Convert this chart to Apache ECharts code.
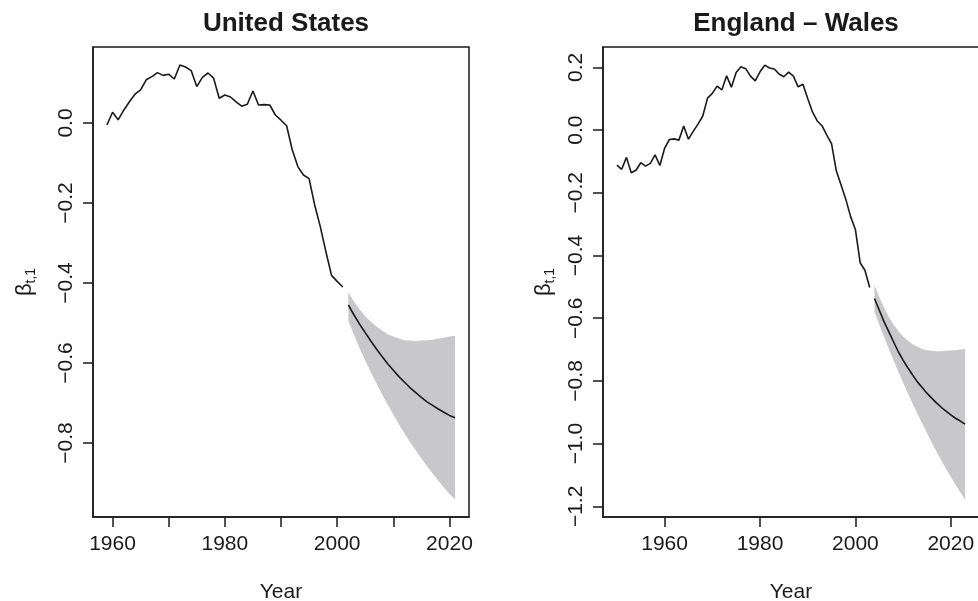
<!DOCTYPE html>
<html>
<head>
<meta charset="utf-8">
<script src="https://cdn.jsdelivr.net/npm/echarts@6/dist/echarts.min.js"></script>
<style>
  html, body { margin: 0; padding: 0; background: #fff; }
  #main { width: 978px; height: 601px; }
</style>
</head>
<body>
<div id="main"></div>
<script>
// United States: fitted beta_t,1 1959-2001, forecast 2002-2021
const usStart = 1959
const usHist = [-0.005, 0.027, 0.008, 0.032, 0.053, 0.072, 0.083, 0.108, 0.116, 0.126,
    0.119, 0.122, 0.110, 0.145, 0.140, 0.131, 0.091, 0.114, 0.125, 0.112,
    0.062, 0.070, 0.065, 0.053, 0.042, 0.047, 0.080, 0.045, 0.046, 0.045,
    0.020, 0.007, -0.007, -0.067, -0.109, -0.130, -0.139, -0.205, -0.259, -0.322,
    -0.381, -0.396, -0.410]
const usFcStart = 2002
const usMid = [-0.455, -0.480, -0.503, -0.524, -0.545, -0.565, -0.584, -0.602, -0.618, -0.634,
    -0.648, -0.662, -0.674, -0.686, -0.697, -0.706, -0.715, -0.723, -0.731, -0.737]
const usUpper = [-0.424, -0.447, -0.466, -0.483, -0.497, -0.509, -0.519, -0.528, -0.534, -0.539,
    -0.543, -0.544, -0.545, -0.544, -0.543, -0.542, -0.539, -0.537, -0.534, -0.532]
const usLower = [-0.495, -0.530, -0.563, -0.594, -0.623, -0.651, -0.678, -0.704, -0.729, -0.753,
    -0.776, -0.798, -0.819, -0.839, -0.858, -0.876, -0.894, -0.911, -0.927, -0.942]

// England - Wales: 1950-2003, forecast 2004-2023
const ewStart = 1950
const ewHist = [-0.112, -0.125, -0.087, -0.136, -0.128, -0.104, -0.115, -0.106, -0.079, -0.113,
    -0.058, -0.030, -0.028, -0.032, 0.013, -0.029, -0.004, 0.019, 0.045, 0.102,
    0.117, 0.140, 0.128, 0.173, 0.137, 0.184, 0.202, 0.196, 0.172, 0.157,
    0.186, 0.207, 0.198, 0.195, 0.179, 0.170, 0.185, 0.172, 0.138, 0.146,
    0.101, 0.058, 0.029, 0.014, -0.016, -0.043, -0.130, -0.175, -0.221, -0.276,
    -0.317, -0.423, -0.447, -0.502]
const ewFcStart = 2004
const ewMid = [-0.537, -0.574, -0.611, -0.643, -0.675, -0.707, -0.734, -0.758, -0.781, -0.803,
    -0.821, -0.839, -0.855, -0.870, -0.884, -0.896, -0.908, -0.919, -0.928, -0.938]
const ewUpper = [-0.494, -0.532, -0.566, -0.596, -0.620, -0.641, -0.658, -0.672, -0.683, -0.691,
    -0.698, -0.702, -0.704, -0.705, -0.705, -0.704, -0.703, -0.702, -0.700, -0.698]
const ewLower = [-0.580, -0.620, -0.659, -0.697, -0.734, -0.770, -0.805, -0.839, -0.872, -0.904,
    -0.935, -0.966, -0.996, -1.025, -1.053, -1.080, -1.106, -1.131, -1.155, -1.178]

const usXTicks = [1960, 1970, 1980, 1990, 2000, 2010, 2020]
const usXLabels = [1960, 1980, 2000, 2020]
const usYTicks = [-0.8, -0.6, -0.4, -0.2, 0]
const ewXTicks = [1960, 1980, 2000, 2020]
const ewYTicks = [-1.2, -1.0, -0.8, -0.6, -0.4, -0.2, 0, 0.2]

const font = 'Liberation Sans, Arial, Helvetica, sans-serif'
const ink = '#1a1a1a'
const bandColor = '#c8c8ca'

function pairs(start, vals) {
    return vals.map((v, i) => [start + i, v])
}
function fmt(v) {
    return v.toFixed(1).replace('-', '\u2212')
}

// 置信带: one polygon, upper edge forward then lower edge back
function band(grid, start, lo, hi) {
    return {
        type: 'custom', xAxisIndex: grid, yAxisIndex: grid, z: 1, silent: true,
        data: lo.map((v, i) => [start + i, v, hi[i]]),
        renderItem: function (params, api) {
            if (params.dataIndex !== 0) return
            let pts = []
            for (let i = 0; i < hi.length; i++) pts.push(api.coord([start + i, hi[i]]))
            for (let i = lo.length - 1; i >= 0; i--) pts.push(api.coord([start + i, lo[i]]))
            return { type: 'polygon', shape: { points: pts }, style: { fill: bandColor } }
        },
        encode: { x: 0, y: [1, 2] }
    }
}

function xAxis(grid, min, max, ticks, labels) {
    return {
        gridIndex: grid, type: 'value', min: min, max: max,
        axisLine: { show: true, onZero: false, lineStyle: { color: ink, width: 1.5 } },
        axisTick: { show: true, customValues: ticks, length: 10, lineStyle: { color: ink, width: 1.5 } },
        axisLabel: { customValues: labels, margin: 17, fontSize: 21, fontFamily: font, color: ink,
            formatter: v => String(v) },
        splitLine: { show: false },
        name: 'Year', nameLocation: 'middle', nameGap: 65,
        nameTextStyle: { fontSize: 21, fontFamily: font, color: ink }
    }
}
function yAxis(grid, min, max, ticks, gap) {
    return {
        gridIndex: grid, type: 'value', min: min, max: max,
        axisLine: { show: true, onZero: false, lineStyle: { color: ink, width: 1.5 } },
        axisTick: { show: true, customValues: ticks, length: 10, lineStyle: { color: ink, width: 1.5 } },
        axisLabel: { customValues: ticks, rotate: 90, margin: 16, fontSize: 21, fontFamily: font, color: ink, formatter: fmt },
        splitLine: { show: false },
        name: '{b|β}{s|t,1}', nameLocation: 'middle', nameRotate: 90, nameGap: gap,
        nameTextStyle: {
            color: ink, fontFamily: font,
            rich: {
                b: { fontSize: 22, fontFamily: font, color: ink },
                s: { fontSize: 14, fontFamily: font, color: ink, padding: [12, 0, 0, 0] }
            }
        }
    }
}

var myChart = echarts.init(document.getElementById('main'), null, { renderer: 'canvas' })

let option = {
    animation: false,
    backgroundColor: '#fff',
    title: [
        { text: 'United States', left: 281, top: 6, textAlign: 'center',
          textStyle: { fontSize: 26, fontWeight: 'bold', fontFamily: font, color: ink } },
        { text: 'England \u2013 Wales', left: 791, top: 6, textAlign: 'center',
          textStyle: { fontSize: 26, fontWeight: 'bold', fontFamily: font, color: ink } }
    ],
    grid: [
        { left: 93, top: 47, width: 376, height: 470, outerBoundsMode: 'none',
          show: true, borderColor: ink, borderWidth: 1.5 },
        { left: 603, top: 47, width: 376, height: 470, outerBoundsMode: 'none',
          show: true, borderColor: ink, borderWidth: 1.5 }
    ],
    xAxis: [
        xAxis(0, 1956.52, 2023.48, usXTicks, usXLabels),
        xAxis(1, 1947.08, 2025.92, ewXTicks, ewXTicks)
    ],
    yAxis: [
        yAxis(0, -0.985, 0.19, usYTicks, 55),
        yAxis(1, -1.234, 0.265, ewYTicks, 46)
    ],
    series: [
        band(0, usFcStart, usLower, usUpper),
        { type: 'line', xAxisIndex: 0, yAxisIndex: 0, symbol: 'none', z: 3,
          lineStyle: { color: ink, width: 1.6 }, data: pairs(usStart, usHist) },
        { type: 'line', xAxisIndex: 0, yAxisIndex: 0, symbol: 'none', z: 3,
          lineStyle: { color: ink, width: 1.6 }, data: pairs(usFcStart, usMid) },

        band(1, ewFcStart, ewLower, ewUpper),
        { type: 'line', xAxisIndex: 1, yAxisIndex: 1, symbol: 'none', z: 3,
          lineStyle: { color: ink, width: 1.6 }, data: pairs(ewStart, ewHist) },
        { type: 'line', xAxisIndex: 1, yAxisIndex: 1, symbol: 'none', z: 3,
          lineStyle: { color: ink, width: 1.6 }, data: pairs(ewFcStart, ewMid) }
    ]
}
myChart.setOption(option)
</script>
</body>
</html>
